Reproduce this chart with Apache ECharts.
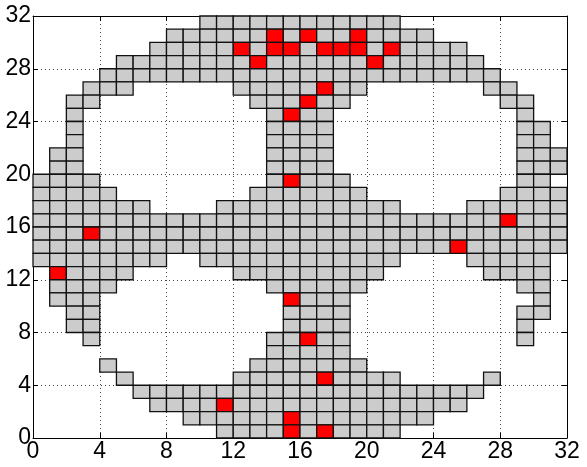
<!DOCTYPE html>
<html><head><meta charset="utf-8">
<script src="https://cdn.jsdelivr.net/npm/echarts@6/dist/echarts.min.js"></script>
<style>html,body{margin:0;padding:0;background:#fff}#c{width:587px;height:467px}</style>
</head><body><div id="c"></div>
<script>
// Grid map, top row (y = 31) first; '.' empty, 'g' gray cell, 'r' red cell
const rowsTopDown = [
  "..........gggggggggggg..........", // 31
  "........ggggggrgrggrgggg........", // 30
  ".......gggggrgrrgrrrgrgggg......", // 29
  ".....ggggggggrggggggrgggggg.....", // 28
  "....gggggggggggggggggggggggg....", // 27
  "...ggg......gggggrgg.......gg...", // 26
  "..gg.........gggrgg.........gg..", // 25
  "..g...........grgg...........g..", // 24
  "..g...........gggg...........gg.", // 23
  "..g...........gggg...........gg.", // 22
  ".gg...........gggg...........ggg", // 21
  ".gg...........gggg...........ggg", // 20
  "gggg..........grggg..........gg.", // 19
  "ggggg........ggggggg........gggg", // 18
  "ggggggg....ggggggggggg....gggggg", // 17
  "ggggggggggggggggggggggggggggrggg", // 16
  "gggrgggggggggggggggggggggggggggg", // 15
  "gggggggggggggggggggggggggrgggggg", // 14
  "gggggggg..gggggggggggg....ggggg.", // 13
  ".rgggg......ggggggggg......gggg.", // 12
  ".gggg.........gggggg.........gg.", // 11
  ".ggg...........rggg...........g.", // 10
  "..gg...........gggg..........gg.", // 9
  "..gg...........gggg..........g..", // 8
  "...g..........ggrgg..........g..", // 7
  "..............ggggg.............", // 6
  "....g........ggggggg............", // 5
  ".....g......gggggrgggg.....g....", // 4
  "......ggggggggggggggggggggg.....", // 3
  ".......ggggrgggggggggggggg......", // 2
  ".........ggggggrgggggggg........", // 1
  "...........ggggrgrgggg.........."  // 0
];
const axisMin = 0;
const axisMax = 32;
const tickStep = 4;

const cells = [];
rowsTopDown.forEach((row, k) => {
  const y = rowsTopDown.length - 1 - k;
  for (let x = 0; x < row.length; x++) {
    const ch = row[x];
    if (ch === 'g') cells.push([x, y, 1]);
    else if (ch === 'r') cells.push([x, y, 2]);
  }
});

const chart = echarts.init(document.getElementById('c'), null, {renderer: 'canvas'});
const labelStyle = {fontFamily: '"Liberation Sans", Arial, sans-serif', fontSize: 23, color: '#000'};
function mkAxis(pos, showLabel, showSplit) {
  return {
    type: 'value', position: pos, min: axisMin, max: axisMax, interval: tickStep,
    axisLine: {show: true, onZero: false, lineStyle: {color: '#000', width: 1}},
    axisTick: {show: true, inside: true, length: 5, lineStyle: {color: '#000'}},
    axisLabel: Object.assign({show: showLabel, margin: 2}, labelStyle),
    splitLine: {show: showSplit, lineStyle: {color: '#444', type: [1, 3], width: 1}}
  };
}
chart.setOption({
  animation: false,
  backgroundColor: '#fff',
  grid: {left: 33, right: 20, top: 16, bottom: 29},
  xAxis: [mkAxis('bottom', true, true), mkAxis('top', false, false)],
  yAxis: [mkAxis('left', true, true), mkAxis('right', false, false)],
  series: [{
    type: 'custom',
    coordinateSystem: 'cartesian2d',
    xAxisIndex: 0, yAxisIndex: 0,
    encode: {x: 0, y: 1},
    data: cells,
    renderItem: function (params, api) {
      const x = api.value(0), y = api.value(1), kind = api.value(2);
      const p0 = api.coord([x, y + 1]);
      const p1 = api.coord([x + 1, y]);
      return {
        type: 'rect',
        shape: {x: p0[0], y: p0[1], width: p1[0] - p0[0], height: p1[1] - p0[1]},
        style: {fill: kind === 2 ? '#ff0000' : '#cccccc', stroke: '#111', lineWidth: 1.3}
      };
    }
  }]
});
</script>
</body></html>
